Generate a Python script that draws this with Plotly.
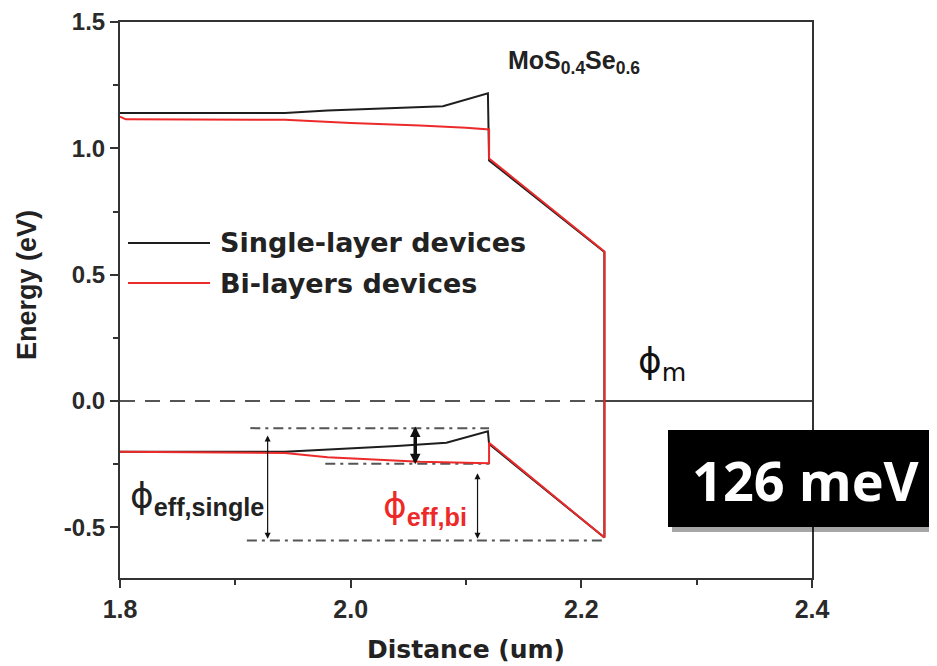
import plotly.graph_objects as go

# ---- data ----
single_x = [1.8, 1.943, 1.98, 2.04, 2.08, 2.119, 2.12, 2.22, 2.22, 2.12, 2.119, 2.083, 2.04, 1.943, 1.8]
single_y = [1.14, 1.14, 1.15, 1.16, 1.167, 1.218, 0.952, 0.59, -0.54, -0.17, -0.119, -0.165, -0.178, -0.2, -0.2]

bi_x = [1.8, 1.805, 1.943, 2.0, 2.06, 2.1, 2.12, 2.12, 2.22, 2.22, 2.12, 2.12, 2.06, 1.98, 1.943, 1.8]
bi_y = [1.125, 1.115, 1.113, 1.1, 1.09, 1.082, 1.075, 0.96, 0.592, -0.54, -0.165, -0.246, -0.24, -0.222, -0.205, -0.2]

fermi_dash_x = [1.8, 2.22]
fermi_dash_y = [0.0, 0.0]
metal_x = [2.22, 2.4]
metal_y = [0.0, 0.0]

guide_top_x = [1.913, 2.12]
guide_top_y = [-0.107, -0.107]
guide_mid_x = [1.978, 2.12]
guide_mid_y = [-0.248, -0.248]
guide_bot_x = [1.91, 2.218]
guide_bot_y = [-0.552, -0.552]

arrow_single = dict(x=1.928, y0=-0.13, y1=-0.545)
arrow_bi = dict(x=2.11, y0=-0.28, y1=-0.545)
arrow_delta = dict(x=2.056, y0=-0.095, y1=-0.25)

x_tickvals = [1.8, 2.0, 2.2, 2.4]
x_ticktext = ["1.8", "2.0", "2.2", "2.4"]
y_tickvals = [-0.5, 0.0, 0.5, 1.0, 1.5]
y_ticktext = ["-0.5", "0.0", "0.5", "1.0", "1.5"]

series_names = ["Single-layer devices", "Bi-layers devices"]
BLACK = "#1e1e1e"
RED = "#ec2a2a"
GUIDE = "#555555"

fig = go.Figure()

fig.add_trace(go.Scatter(x=fermi_dash_x, y=fermi_dash_y, mode="lines",
                         line=dict(color="#555555", width=2, dash="15px,10px"),
                         showlegend=False, hoverinfo="skip"))
fig.add_trace(go.Scatter(x=metal_x, y=metal_y, mode="lines",
                         line=dict(color="#444444", width=2),
                         showlegend=False, hoverinfo="skip"))
for gx, gy in [(guide_top_x, guide_top_y), (guide_mid_x, guide_mid_y), (guide_bot_x, guide_bot_y)]:
    fig.add_trace(go.Scatter(x=gx, y=gy, mode="lines",
                             line=dict(color=GUIDE, width=2, dash="10px,5px,3px,5px"),
                             showlegend=False, hoverinfo="skip"))

fig.add_trace(go.Scatter(x=single_x, y=single_y, mode="lines", name=series_names[0],
                         line=dict(color=BLACK, width=2), showlegend=False))
fig.add_trace(go.Scatter(x=bi_x, y=bi_y, mode="lines", name=series_names[1],
                         line=dict(color=RED, width=2), showlegend=False))

# arrows
for a, w, size in [(arrow_single, 1.2, 1.0), (arrow_bi, 1.2, 1.0), (arrow_delta, 3.5, 0.6)]:
    fig.add_annotation(x=a["x"], y=a["y1"], ax=a["x"], ay=a["y0"], xref="x", yref="y",
                       axref="x", ayref="y", text="", showarrow=True,
                       arrowhead=2, startarrowhead=2, arrowside="end+start",
                       arrowsize=size, startarrowsize=size, arrowwidth=w, arrowcolor="#111111")

# page offset: the browser body has an 8px margin
OFF = 8
W = 692.0
H = 556.0
def px_x(p):
    return (p - 120) / W
def px_y(p):
    return (578 - p) / H

fig.add_shape(type="line", xref="paper", yref="paper", x0=px_x(128), x1=px_x(210),
              y0=px_y(243), y1=px_y(243), line=dict(color=BLACK, width=2))
fig.add_shape(type="line", xref="paper", yref="paper", x0=px_x(128), x1=px_x(210),
              y0=px_y(283), y1=px_y(283), line=dict(color=RED, width=2))
legend_font = dict(family="DejaVu Sans", size=27, color="#222222", weight="bold")
fig.add_annotation(xref="paper", yref="paper", x=px_x(218), y=px_y(243), text=series_names[0],
                   showarrow=False, xanchor="left", yanchor="middle", font=legend_font)
fig.add_annotation(xref="paper", yref="paper", x=px_x(218), y=px_y(283), text=series_names[1],
                   showarrow=False, xanchor="left", yanchor="middle", font=legend_font)

# y-axis title (placed to match the reference)
fig.add_annotation(xref="paper", yref="paper", x=px_x(27), y=px_y(285), text="<b>Energy (eV)</b>",
                   textangle=-90, showarrow=False, xanchor="center", yanchor="middle",
                   font=dict(family="Liberation Sans", size=27, color="#222222"))

# text labels
fig.add_annotation(xref="paper", yref="paper", x=px_x(506), y=px_y(62),
                   text="<b>MoS<sub>0.4</sub>Se<sub>0.6</sub></b>", showarrow=False,
                   xanchor="left", yanchor="middle",
                   font=dict(family="Liberation Sans", size=25, color="#222222"))
fig.add_annotation(xref="paper", yref="paper", x=px_x(636), y=px_y(363),
                   text="ϕ<sub>m</sub>", showarrow=False, xanchor="left", yanchor="middle",
                   font=dict(family="DejaVu Sans", size=36, color="#111111"))
sub_style = "font-family:Liberation Sans"
fig.add_annotation(xref="paper", yref="paper", x=px_x(128), y=px_y(498),
                   text="ϕ<sub><span style='%s'><b>eff,single</b></span></sub>" % sub_style,
                   showarrow=False, xanchor="left",
                   yanchor="middle", font=dict(family="DejaVu Sans", size=36, color="#222222"))
fig.add_annotation(xref="paper", yref="paper", x=px_x(381), y=px_y(508),
                   text="ϕ<sub><span style='%s'><b>eff,bi</b></span></sub>" % sub_style,
                   showarrow=False, xanchor="left",
                   yanchor="middle", font=dict(family="DejaVu Sans", size=36, color=RED))

# 126 meV box
fig.add_shape(type="rect", xref="paper", yref="paper", x0=px_x(672), x1=px_x(945),
              y0=px_y(532), y1=px_y(434), line=dict(width=0), fillcolor="rgba(0,0,0,0.35)", layer="above")
fig.add_shape(type="rect", xref="paper", yref="paper", x0=px_x(668), x1=px_x(945),
              y0=px_y(527), y1=px_y(430), line=dict(width=0), fillcolor="#000000", layer="above")
fig.add_annotation(xref="paper", yref="paper", x=px_x(806), y=px_y(480), text="126 meV",
                   showarrow=False, xanchor="center", yanchor="middle",
                   font=dict(family="Open Sans", size=54, color="#ffffff", weight="bold"))

axis_common = dict(showline=True, mirror=True, linecolor="#333333", linewidth=2,
                   showgrid=False, zeroline=False, ticks="outside", ticklen=8, tickwidth=2,
                   tickcolor="#333333", automargin=False)
fig.update_xaxes(range=[1.8, 2.4], tickvals=x_tickvals, ticktext=x_ticktext,
                 tickfont=dict(family="Liberation Sans", size=25, color="#2a2a2a", weight="bold"),
                 minor=dict(ticks="outside", ticklen=5, tickwidth=2, tickcolor="#333333", dtick=0.1),
                 title=dict(text="Distance (um)", standoff=18,
                            font=dict(family="DejaVu Sans", size=25, color="#222222", weight="bold")),
                 **axis_common)
fig.update_yaxes(range=[-0.7, 1.5], tickvals=y_tickvals, ticktext=y_ticktext,
                 tickfont=dict(family="Liberation Sans", size=24, color="#2a2a2a", weight="bold"),
                 minor=dict(ticks="outside", ticklen=5, tickwidth=2, tickcolor="#333333",
                            tickvals=[-0.25, 0.25, 0.75, 1.25]),
                 **axis_common)

fig.update_layout(width=937 - OFF, height=666 - OFF,
                  margin=dict(l=120 - OFF, r=125, t=22 - OFF, b=88),
                  plot_bgcolor="white", paper_bgcolor="white", showlegend=False)

fig.write_html("out.html")
